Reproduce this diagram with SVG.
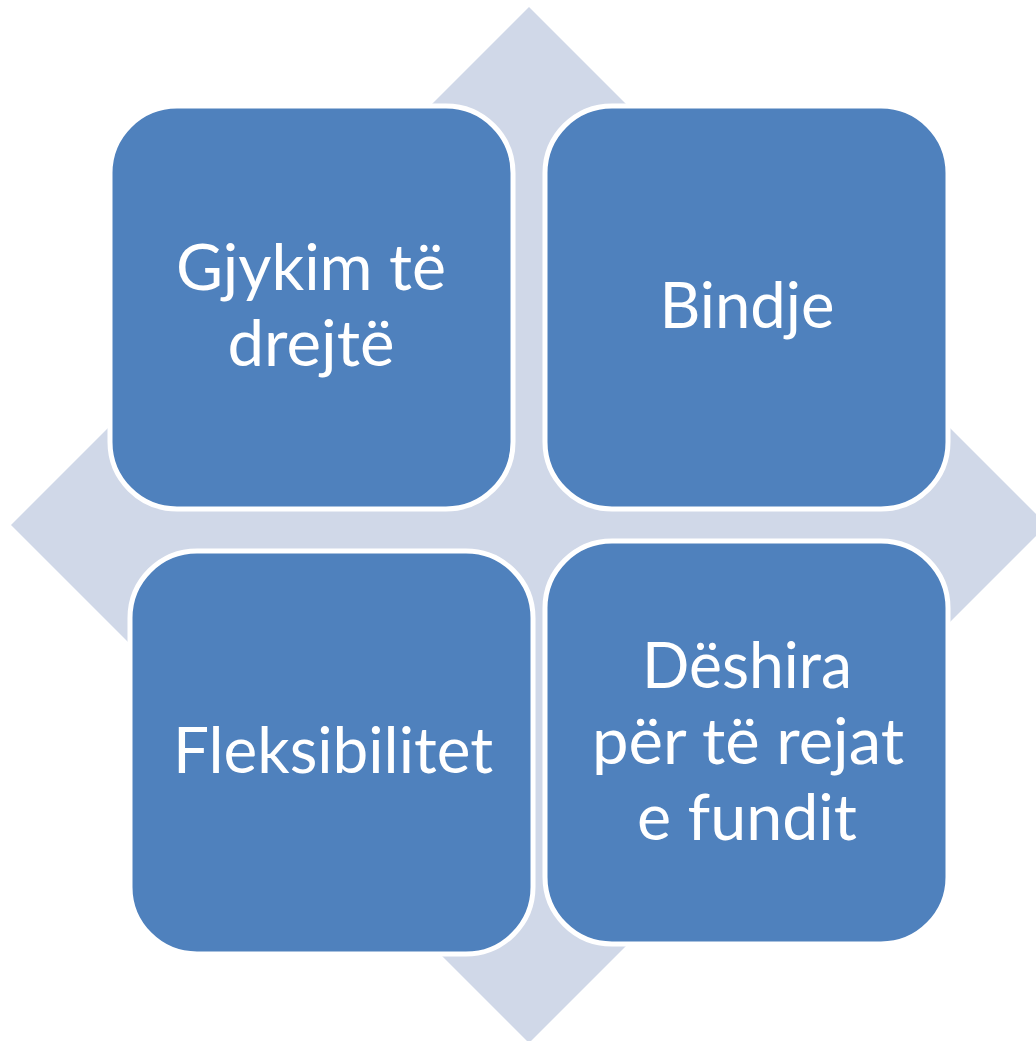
<svg xmlns="http://www.w3.org/2000/svg" width="1036" height="1041" viewBox="0 0 1036 1041">
<style>
.bg{fill:#D0D8E8;}
.box{fill:#4F81BD;stroke:#FFFFFF;stroke-width:5;}
.lbl{fill:#FFFFFF;font-family:Lato,"Open Sans","Liberation Sans",sans-serif;font-size:64px;text-anchor:middle;}
</style>
<rect width="1036" height="1041" fill="#FFFFFF"/>
<g id="background">
<polygon class="bg" points="529,7 1047,525 529,1043 11,525"/>
</g>
<g id="connectors"></g>
<g id="node-1">
<rect class="box" x="110" y="106" width="403" height="403" rx="67" ry="67"/>
<text class="lbl" x="311" y="290" textLength="270" lengthAdjust="spacingAndGlyphs">Gjykim të</text>
<text class="lbl" x="311" y="366" textLength="167" lengthAdjust="spacingAndGlyphs">drejtë</text>
</g>
<g id="node-2">
<rect class="box" x="545" y="106" width="403" height="403" rx="67" ry="67"/>
<text class="lbl" x="747" y="328" textLength="175" lengthAdjust="spacingAndGlyphs">Bindje</text>
</g>
<g id="node-3">
<rect class="box" x="130" y="551" width="403" height="403" rx="67" ry="67"/>
<text class="lbl" x="333" y="773" textLength="320" lengthAdjust="spacingAndGlyphs">Fleksibilitet</text>
</g>
<g id="node-4">
<rect class="box" x="545" y="541" width="403" height="403" rx="67" ry="67"/>
<text class="lbl" x="747" y="688" textLength="210" lengthAdjust="spacingAndGlyphs">Dëshira</text>
<text class="lbl" x="748" y="764" textLength="312" lengthAdjust="spacingAndGlyphs">për të rejat</text>
<text class="lbl" x="747" y="840" textLength="220" lengthAdjust="spacingAndGlyphs">e fundit</text>
</g>
</svg>
